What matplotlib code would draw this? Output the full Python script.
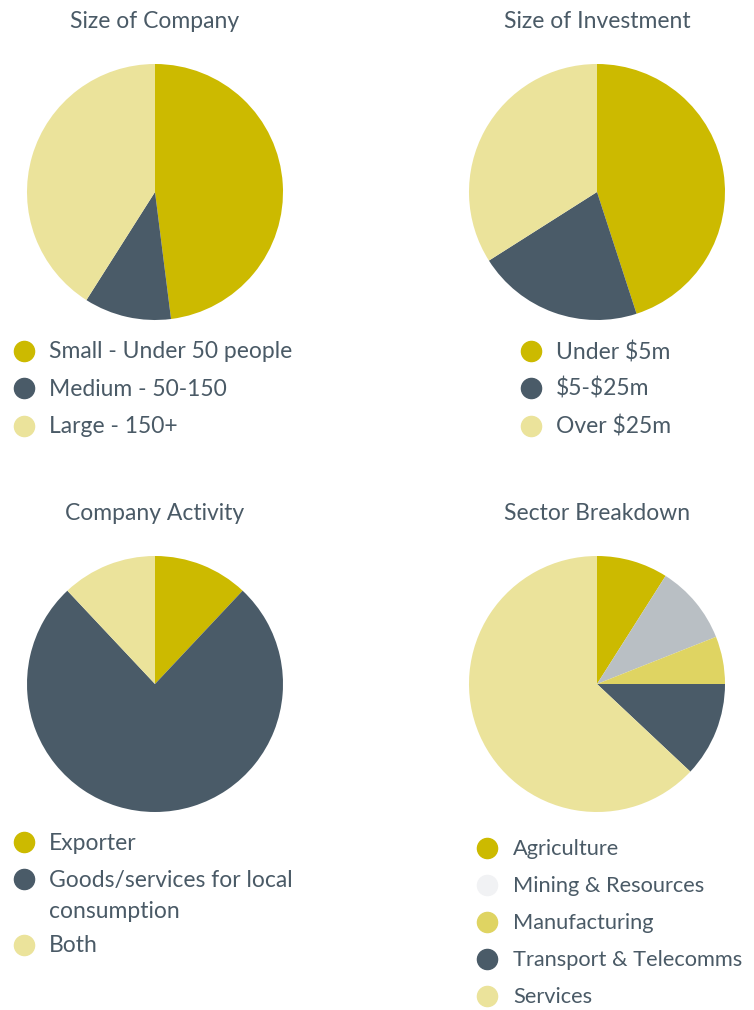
import matplotlib
matplotlib.use("Agg")
import matplotlib.pyplot as plt
from matplotlib.lines import Line2D

W, H = 754, 1010
plt.rcParams['font.family'] = ['Lato', 'DejaVu Sans']

GOLD = '#CCBA00'
SLATE = '#4A5B68'
LIGHT = '#EBE39B'
GREY = '#B9BFC4'
MID = '#DFD462'
TXT = '#4A5A66'

company_labels = ['Small - Under 50 people', 'Medium - 50-150', 'Large - 150+']
company_vals = [48, 11, 41]

invest_labels = ['Under \\$5m', '\\$5-\\$25m', 'Over \\$25m']
invest_vals = [45, 21, 34]

activity_labels = ['Exporter', 'Goods/services for local\nconsumption', 'Both']
activity_vals = [12, 76, 12]

sector_labels = ['Agriculture', 'Mining & Resources', 'Manufacturing',
                 'Transport & Telecomms', 'Services']
sector_vals = [9, 10, 6, 12, 63]

fig = plt.figure(figsize=(W / 100, H / 100), dpi=100)


def fx(x):
    return x / W


def fy(y):
    return 1 - y / H


def pie(cx, cy, r, vals, colors, title, ty):
    ax = fig.add_axes([fx(cx - r), fy(cy + r), 2 * r / W, 2 * r / H])
    ax.pie(vals, colors=colors, startangle=90, counterclock=False,
           radius=1, wedgeprops=dict(linewidth=0))
    ax.set_xlim(-1, 1)
    ax.set_ylim(-1, 1)
    ax.axis('off')
    fig.text(fx(cx), fy(ty), title, ha='center', va='center',
             fontsize=16.5, color=TXT)


def legend(mx, tx, rows, labels, colors, size=16.5):
    for y, lab, c in zip(rows, labels, colors):
        fig.add_artist(Line2D([fx(mx)], [fy(y)], marker='o', markersize=14.5,
                              color=c, linestyle='none',
                              transform=fig.transFigure))
        fig.text(fx(tx), fy(y + 1), lab, ha='left', va='center',
                 fontsize=size, color=TXT, linespacing=1.58)


pie(155, 192, 128, company_vals, [GOLD, SLATE, LIGHT], 'Size of Company', 22)
legend(24, 49, [351, 388, 426], company_labels, [GOLD, SLATE, LIGHT])

pie(597, 192, 128, invest_vals, [GOLD, SLATE, LIGHT], 'Size of Investment', 22)
legend(531, 556, [351, 388, 426], invest_labels, [GOLD, SLATE, LIGHT])

pie(155, 684, 128, activity_vals, [GOLD, SLATE, LIGHT], 'Company Activity', 514)
legend(24, 49, [842, 895, 945], activity_labels, [GOLD, SLATE, LIGHT])
# marker for the two-line entry sits on its first line
fig.artists[-2].set_ydata([fy(879)])

pie(597, 684, 128, sector_vals, [GOLD, GREY, MID, SLATE, LIGHT],
    'Sector Breakdown', 514)
legend(487, 513, [848, 885, 922, 959, 996], sector_labels,
       [GOLD, '#F1F2F4', MID, SLATE, LIGHT], size=15.7)

fig.savefig('out.png', dpi=100)
